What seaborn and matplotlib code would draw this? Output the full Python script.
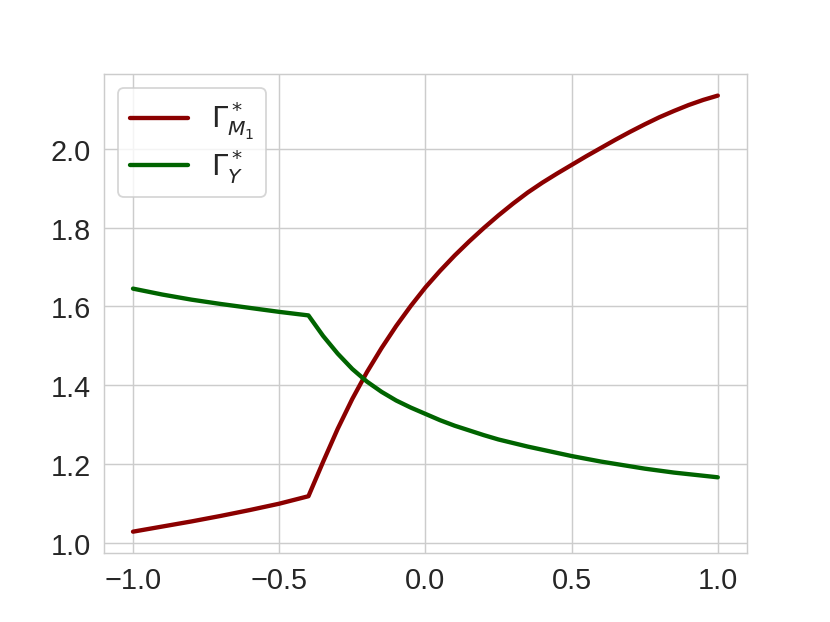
import matplotlib
matplotlib.use("Agg")
import matplotlib.pyplot as plt
import pandas as pd
import seaborn as sns

x = [-1.0, -0.9, -0.8, -0.7, -0.6, -0.5, -0.4, -0.35, -0.3, -0.25, -0.2,
     -0.15, -0.1, -0.05, 0.0, 0.05, 0.1, 0.15, 0.2, 0.25, 0.3, 0.35, 0.4,
     0.45, 0.5, 0.55, 0.6, 0.65, 0.7, 0.75, 0.8, 0.85, 0.9, 0.95, 1.0]

gamma_m1 = [1.028, 1.041, 1.054, 1.068, 1.083, 1.099, 1.118, 1.205, 1.289,
            1.365, 1.433, 1.494, 1.550, 1.601, 1.648, 1.690, 1.729, 1.765,
            1.799, 1.831, 1.861, 1.889, 1.914, 1.937, 1.959, 1.981, 2.002,
            2.023, 2.043, 2.062, 2.080, 2.096, 2.111, 2.124, 2.135]

gamma_y = [1.645, 1.630, 1.617, 1.606, 1.596, 1.586, 1.577, 1.525, 1.480,
           1.441, 1.409, 1.383, 1.361, 1.343, 1.327, 1.311, 1.297, 1.285,
           1.273, 1.262, 1.253, 1.244, 1.236, 1.228, 1.220, 1.213, 1.206,
           1.200, 1.194, 1.188, 1.183, 1.178, 1.174, 1.170, 1.166]

df = pd.DataFrame({"x": x, "m1": gamma_m1, "y": gamma_y})

sns.set_style("whitegrid")
plt.rcParams["font.family"] = ["Liberation Sans", "DejaVu Sans"]
plt.rcParams["xtick.labelsize"] = 16
plt.rcParams["ytick.labelsize"] = 16
plt.rcParams["legend.fontsize"] = 16

fig, ax = plt.subplots(figsize=(6.385, 4.792), dpi=130)
sns.lineplot(data=df, x="x", y="m1", color="darkred", lw=2.4,
             label=r"$\Gamma^*_{M_1}$", ax=ax)
sns.lineplot(data=df, x="x", y="y", color="darkgreen", lw=2.4,
             label=r"$\Gamma^*_{Y}$", ax=ax)
ax.set_xlabel("")
ax.set_ylabel("")
ax.legend(loc="upper left", labelspacing=0.22)

fig.savefig("out.png", dpi=130)
